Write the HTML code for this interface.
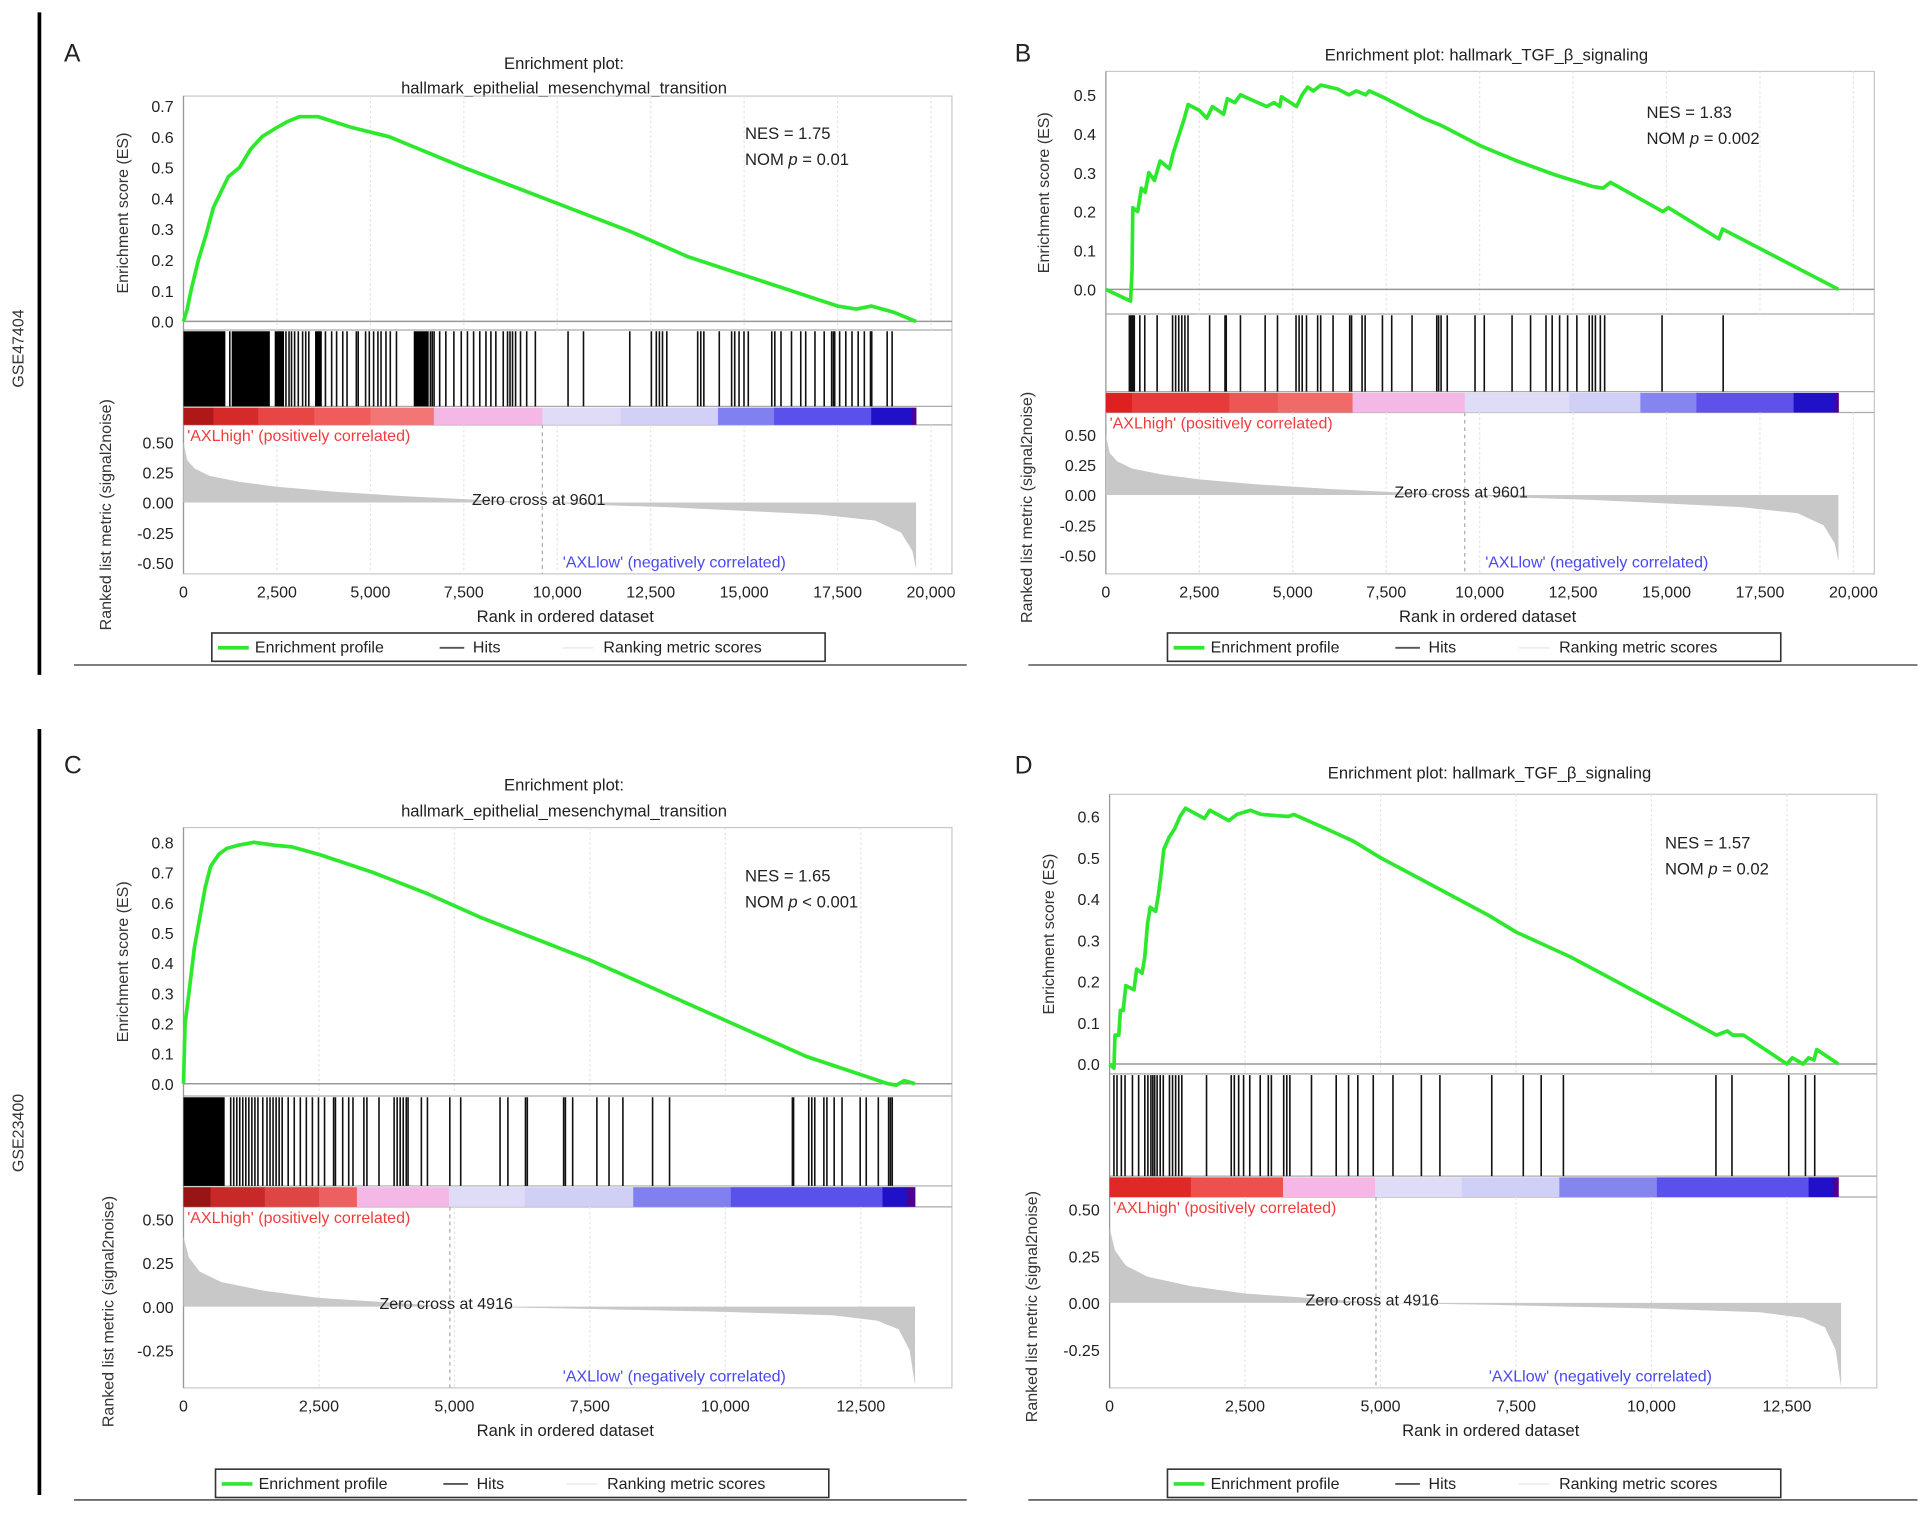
<!DOCTYPE html>
<html><head><meta charset="utf-8">
<style>
html,body{margin:0;padding:0;background:#fff;}
svg{display:block;font-family:"Liberation Sans",Arial,sans-serif;}
</style></head>
<body>
<svg id="fig" width="1931" height="1514" viewBox="0 0 1568 1229.4" preserveAspectRatio="none" xmlns="http://www.w3.org/2000/svg">
<rect x="0" y="0" width="1568" height="1230" fill="#fff"/>
<line x1="32" y1="10" x2="32" y2="548" stroke="#000" stroke-width="3"/>
<line x1="32" y1="592" x2="32" y2="1214" stroke="#000" stroke-width="3"/>
<text x="0" y="0" transform="translate(19,283) rotate(-90)" text-anchor="middle" font-size="13" fill="#333">GSE47404</text>
<text x="0" y="0" transform="translate(19,920) rotate(-90)" text-anchor="middle" font-size="13" fill="#333">GSE23400</text>
<g id="panels"></g>
</svg>
<script>
// ---------- DATA ----------
const esA_rank=[0,100,200,400,600,800,1000,1200,1500,1800,2100,2500,2800,3100,3600,4500,5500,6500,7500,9000,10500,12000,13500,15000,16000,17000,17500,18000,18400,19000,19600];
const esA_val=[0,0.04,0.1,0.2,0.28,0.37,0.42,0.47,0.5,0.56,0.6,0.63,0.65,0.665,0.665,0.63,0.6,0.55,0.5,0.43,0.36,0.29,0.21,0.15,0.11,0.07,0.05,0.04,0.05,0.03,0.0];
const hitsA=[1239,2741,2824,2890,2973,3072,3187,3270,3353,3798,3964,4096,4261,4376,4624,4674,4872,4971,5087,5202,5285,5417,5533,5698,6606,6656,6705,6854,7019,7234,7432,7597,7762,7927,8092,8224,8357,8555,8670,8736,8803,8885,9017,9182,9414,10289,10702,11940,12518,12650,12733,12816,12931,13757,13840,13922,14335,14665,14748,14864,14996,15111,15739,15821,15986,16267,16515,16647,16895,17142,17341,17390,17423,17555,17720,17886,18051,18216,18381,18414,18827,18959];
const hitBlocksA=[[0,1120],[1290,2310],[2440,2690],[3520,3700],[6160,6560]];
const cbarA_start=[0,800,2000,3500,5000,6700,9600,11700,14300,15800,18400,19500];
const cbarA_color=['#b01818','#d62a2a','#e84545','#f05c5c','#f47575','#f5b8e6','#dedcf6','#d2d0f7','#8080f0','#5a50ec','#2010c8','#500090'];
const metricA_rank=[0,100,300,700,1500,2500,4000,6000,8000,9601,11000,13000,15000,17000,18500,19200,19500,19600];
const metricA_val=[0.5,0.35,0.28,0.22,0.17,0.13,0.09,0.05,0.02,0,-0.02,-0.04,-0.07,-0.1,-0.15,-0.25,-0.4,-0.55];

const esB_rank=[0,660,700,720,850,950,1050,1150,1300,1450,1700,1800,1900,2000,2100,2200,2500,2700,2850,3150,3250,3450,3600,4300,4500,4650,4700,5100,5250,5400,5550,5750,6200,6500,6700,6950,7050,7500,8500,9000,10000,11000,12000,13000,13300,13500,14900,15050,16400,16500,19600];
const esB_val=[0,-0.03,0.05,0.21,0.2,0.26,0.25,0.30,0.28,0.33,0.31,0.35,0.38,0.41,0.44,0.475,0.46,0.44,0.47,0.45,0.49,0.48,0.50,0.47,0.48,0.47,0.495,0.47,0.50,0.52,0.51,0.525,0.515,0.50,0.51,0.50,0.51,0.49,0.44,0.42,0.37,0.33,0.295,0.265,0.26,0.275,0.2,0.21,0.13,0.155,0.0];
const hitsB=[628,660,694,727,760,908,1040,1371,1784,1866,1949,2031,2114,2197,2775,3187,3220,3600,4261,4591,5087,5169,5252,5367,5665,5747,6078,6523,6573,6854,6936,7399,7647,8191,8852,8902,8968,9133,9876,10124,10867,11362,11775,11940,12139,12353,12601,12931,13014,13097,13229,13344,14880,16515];
const hitBlocksB=[];
const cbarB_start=[0,700,3300,4600,6600,9600,12400,14300,15800,18400,19500];
const cbarB_color=['#e02020','#e83a3a','#ee5555','#f06a6a','#f5b8e6','#dedcf6','#d0d0f7','#8585f0','#6050ec','#2010c8','#500090'];
const metricB_rank=metricA_rank;
const metricB_val=metricA_val;

const esC_rank=[0,30,100,200,300,400,500,650,800,1000,1300,1700,2000,2500,3500,4500,5500,6500,7500,8500,9500,10500,11500,12500,13000,13150,13300,13500];
const esC_val=[0,0.2,0.3,0.45,0.55,0.65,0.72,0.76,0.78,0.79,0.80,0.79,0.785,0.76,0.70,0.63,0.55,0.48,0.41,0.33,0.25,0.17,0.09,0.03,0.0,-0.005,0.01,0.0];
const hitsC=[871,927,983,1038,1094,1150,1206,1262,1318,1374,1463,1541,1597,1653,1709,1765,1821,1932,2044,2156,2267,2379,2491,2603,2770,2804,2938,3049,3128,3329,3385,3608,3887,3943,3999,4055,4111,4144,4390,4502,4915,5116,5842,5987,6311,6345,7015,7048,7182,7629,7853,8109,8657,8970,11237,11259,11539,11595,11650,11818,11874,12008,12153,12488,12600,12823,13013,13047,13080];
const hitBlocksC=[[0,760]];
const cbarC_start=[0,500,1500,2500,3200,4900,6300,8300,10100,12900,13350];
const cbarC_color=['#9a1414','#c82828','#e04545','#ee6060','#f5b8e6','#dedcf6','#d0d0f7','#8080f0','#5a50ec','#2010c8','#500090'];
const metricC_rank=[0,100,300,700,1500,2500,4000,4916,7000,10000,12000,12800,13200,13400,13500];
const metricC_val=[0.4,0.28,0.2,0.14,0.09,0.05,0.02,0,-0.01,-0.03,-0.05,-0.08,-0.13,-0.25,-0.45];

const esD_rank=[0,80,100,170,200,250,300,450,500,600,650,700,750,850,900,950,1000,1100,1200,1300,1400,1750,1850,2200,2350,2600,2800,3300,3400,4000,4500,5000,6000,7000,7500,8000,8500,9500,10500,11200,11400,11500,11700,12500,12600,12800,12900,13000,13050,13450];
const esD_val=[0,-0.01,0.07,0.07,0.13,0.13,0.19,0.18,0.23,0.22,0.26,0.34,0.38,0.37,0.41,0.46,0.52,0.55,0.57,0.6,0.62,0.595,0.615,0.59,0.605,0.615,0.605,0.6,0.605,0.57,0.54,0.50,0.43,0.36,0.32,0.29,0.26,0.19,0.12,0.07,0.08,0.07,0.07,0.0,0.015,0.0,0.015,0.01,0.035,0.0];
const hitsD=[80,137,217,285,422,536,650,707,763,798,832,877,934,991,1105,1162,1219,1276,1333,1789,2245,2302,2382,2473,2587,2780,2929,2986,3213,3270,3327,3726,4182,4410,4581,4866,5230,5754,6096,7053,7635,7965,8375,11190,11486,12534,12842,13013];
const hitBlocksD=[];
const cbarD_start=[0,1500,3200,4900,6500,8300,10100,12900,13350];
const cbarD_color=['#e02828','#ee5050','#f5b8e6','#dedcf6','#d0d0f7','#8585f0','#5a50ec','#2010c8','#500090'];
const metricD_rank=metricC_rank;
const metricD_val=metricC_val;

const xTicksA=[0,2500,5000,7500,10000,12500,15000,17500,20000];
const xTicksC=[0,2500,5000,7500,10000,12500];
const esTicksA=[0,0.1,0.2,0.3,0.4,0.5,0.6,0.7];
const esTicksB=[0,0.1,0.2,0.3,0.4,0.5];
const esTicksC=[0,0.1,0.2,0.3,0.4,0.5,0.6,0.7,0.8];
const esTicksD=[0,0.1,0.2,0.3,0.4,0.5,0.6];
const mTicksAB=[0.5,0.25,0,-0.25,-0.5];
const mTicksCD=[0.5,0.25,0,-0.25];

// ---------- LAYOUT ----------
const panels=[
 {id:'a',letter:'A',lx:52,ly:50,title:['Enrichment plot:','hallmark_epithelial_mesenchymal_transition'],ty:[56,76],
  L:149,R:773,esTop:78,hitTop:268,cbTop:330,cbBot:345,bot:466,y0:261,pes:250,m0:408,pm:98,xppr:607/20000,end:19600,zc:9601,
  esR:esA_rank,esV:esA_val,hits:hitsA,blocks:hitBlocksA,cbS:cbarA_start,cbC:cbarA_color,mR:metricA_rank,mV:metricA_val,
  xt:xTicksA,et:esTicksA,mt:mTicksAB,nes:['NES = 1.75','0.01','='],nx:605,ny:113,legX:172,legY:514,lineX1:60,lineX2:785,lineY:540,esLabX:104,mLabX:90},
 {id:'b',letter:'B',lx:824,ly:50,title:['Enrichment plot: hallmark_TGF_β_signaling'],ty:[49],
  L:898,R:1522,esTop:58,hitTop:255,cbTop:318,cbBot:335,bot:466,y0:235,pes:316,m0:402,pm:98,xppr:607/20000,end:19600,zc:9601,
  esR:esB_rank,esV:esB_val,hits:hitsB,blocks:hitBlocksB,cbS:cbarB_start,cbC:cbarB_color,mR:metricB_rank,mV:metricB_val,
  xt:xTicksA,et:esTicksB,mt:mTicksAB,nes:['NES = 1.83','0.002','='],nx:1337,ny:96,legX:948,legY:514,lineX1:835,lineX2:1557,lineY:540,esLabX:852,mLabX:838},
 {id:'c',letter:'C',lx:52,ly:628,title:['Enrichment plot:','hallmark_epithelial_mesenchymal_transition'],ty:[642,663],
  L:149,R:773,esTop:672,hitTop:890,cbTop:963,cbBot:980,bot:1127,y0:880,pes:245,m0:1061,pm:142,xppr:110/2500,end:13500,zc:4916,
  esR:esC_rank,esV:esC_val,hits:hitsC,blocks:hitBlocksC,cbS:cbarC_start,cbC:cbarC_color,mR:metricC_rank,mV:metricC_val,
  xt:xTicksC,et:esTicksC,mt:mTicksCD,nes:['NES = 1.65','0.001','<'],nx:605,ny:716,legX:175,legY:1193,lineX1:60,lineX2:785,lineY:1218,esLabX:104,mLabX:92},
 {id:'d',letter:'D',lx:824,ly:628,title:['Enrichment plot: hallmark_TGF_β_signaling'],ty:[632],
  L:901,R:1524,esTop:645,hitTop:872,cbTop:955,cbBot:972,bot:1127,y0:864,pes:335,m0:1058,pm:152,xppr:110/2500,end:13450,zc:4916,
  esR:esD_rank,esV:esD_val,hits:hitsD,blocks:hitBlocksD,cbS:cbarD_start,cbC:cbarD_color,mR:metricD_rank,mV:metricD_val,
  xt:xTicksC,et:esTicksD,mt:mTicksCD,nes:['NES = 1.57','0.02','='],nx:1352,ny:689,legX:948,legY:1193,lineX1:835,lineX2:1557,lineY:1218,esLabX:856,mLabX:842}
];

const NS='http://www.w3.org/2000/svg';
const root=document.getElementById('panels');
function mk(tag,attrs,parent,txt){const e=document.createElementNS(NS,tag);for(const k in attrs)e.setAttribute(k,attrs[k]);if(txt!==undefined)e.textContent=txt;(parent||root).appendChild(e);return e;}
function fmt(v){return v.toLocaleString('en-US');}

panels.forEach(p=>{
  const g=mk('g',{});
  
  
  const xs=r=>p.L+r*p.xppr;
  const ys=v=>p.y0-v*p.pes;
  const ym=v=>p.m0-v*p.pm;
  const lt=mk('text',{x:p.lx,y:p.ly,'font-size':20,fill:'#222'},g,p.letter);
  
  
  p.title.forEach((t,i)=>{const tt=mk('text',{x:(p.L+p.R)/2-3,y:p.ty[i],'font-size':13.5,'text-anchor':'middle',fill:'#222'},g,t);
    
    });
  mk('rect',{x:p.L,y:p.esTop,width:p.R-p.L,height:p.bot-p.esTop,fill:'none',stroke:'#c8c8c8','stroke-width':1},g);
  mk('line',{x1:p.L,y1:p.hitTop,x2:p.R,y2:p.hitTop,stroke:'#aaa','stroke-width':1},g);
  mk('line',{x1:p.L,y1:p.cbTop,x2:p.R,y2:p.cbTop,stroke:'#aaa','stroke-width':1},g);
  mk('line',{x1:p.L,y1:p.cbBot,x2:p.R,y2:p.cbBot,stroke:'#aaa','stroke-width':1},g);
  p.xt.forEach(t=>{const x=xs(t);
    mk('line',{x1:x,y1:p.esTop,x2:x,y2:p.hitTop,stroke:'#e4e4e4','stroke-dasharray':'2,2'},g);
    mk('line',{x1:x,y1:p.cbBot,x2:x,y2:p.bot,stroke:'#e4e4e4','stroke-dasharray':'2,2'},g);
    const tl=mk('text',{x:x,y:p.bot+19,'font-size':13,'text-anchor':'middle',fill:'#222'},g,fmt(t));
    
    });
  mk('line',{x1:p.L,y1:p.bot,x2:p.L,y2:p.esTop,stroke:'#999'},g);
  p.et.forEach(t=>{const tl=mk('text',{x:p.L-8,y:ys(t)+5,'font-size':13,'text-anchor':'end',fill:'#222'},g,t.toFixed(1));
    
    });
  mk('line',{x1:p.L,y1:p.y0,x2:p.R,y2:p.y0,stroke:'#999','stroke-width':1.2},g);
  p.mt.forEach(t=>{const tl=mk('text',{x:p.L-8,y:ym(t)+5,'font-size':13,'text-anchor':'end',fill:'#222'},g,t.toFixed(2));
    
    });
  const a1=mk('text',{x:0,y:0,transform:`translate(${p.esLabX},${(p.esTop+p.hitTop)/2}) rotate(-90)`,'font-size':13,'text-anchor':'middle',fill:'#333'},g,'Enrichment score (ES)');
  
  
  const a2=mk('text',{x:0,y:0,transform:`translate(${p.mLabX},${(p.cbTop+p.bot+40)/2}) rotate(-90)`,'font-size':13,'text-anchor':'middle',fill:'#333'},g,'Ranked list metric (signal2noise)');
  
  
  const a3=mk('text',{x:(p.L+p.R)/2-2,y:p.bot+39,'font-size':13.5,'text-anchor':'middle',fill:'#222'},g,'Rank in ordered dataset');
  
  
  p.blocks.forEach(b=>{const r=mk('rect',{x:xs(b[0]),y:p.hitTop+1,width:xs(b[1])-xs(b[0]),height:p.cbTop-p.hitTop-1,fill:'#000'},g);
    
    });
  p.hits.forEach(h=>{const l=mk('line',{x1:xs(h),y1:p.hitTop+1,x2:xs(h),y2:p.cbTop,stroke:'#111','stroke-width':1.3},g);
    
    });
  p.cbS.forEach((s,i)=>{const e=i+1<p.cbS.length?p.cbS[i+1]:p.end;
    const r=mk('rect',{x:xs(s),y:p.cbTop+1,width:xs(e)-xs(s)+0.3,height:p.cbBot-p.cbTop-1,fill:p.cbC[i]},g);
    
    });
  let d=`M${xs(p.mR[0])},${ym(0)}`;
  p.mR.forEach((r,i)=>{d+=` L${xs(r)},${ym(p.mV[i])}`;});
  d+=` L${xs(p.mR[p.mR.length-1])},${ym(0)} Z`;
  const ar=mk('path',{d:d,fill:'#c8c8c8',stroke:'none'},g);
  
  
  mk('line',{x1:xs(p.zc),y1:p.cbBot,x2:xs(p.zc),y2:p.bot,stroke:'#aaa','stroke-dasharray':'3,3'},g);
  const zt=mk('text',{x:xs(p.zc)-3,y:ym(0)+2,'font-size':13,'text-anchor':'middle',fill:'#222'},g,'Zero cross at '+p.zc);
  
  
  const hl=mk('text',{x:p.L+3,y:p.cbBot+13,'font-size':13,fill:'#f03c3c'},g,"'AXLhigh' (positively correlated)");
  
  
  const ll=mk('text',{x:p.L+308,y:p.bot-5,'font-size':13,fill:'#4848f0'},g,"'AXLlow' (negatively correlated)");
  
  
  const pts=p.esR.map((r,i)=>xs(r)+','+ys(p.esV[i])).join(' ');
  const pl=mk('polyline',{points:pts,fill:'none',stroke:'#2ee82e','stroke-width':3,'stroke-linejoin':'round'},g);
  
  
  const n1=mk('text',{x:p.nx,y:p.ny,'font-size':13.5,fill:'#222'},g,p.nes[0]);
  
  
  const n2=mk('text',{x:p.nx,y:p.ny+21,'font-size':13.5,fill:'#222'},g);
  
  
  mk('tspan',{},n2,'NOM ');mk('tspan',{'font-style':'italic'},n2,'p');mk('tspan',{},n2,' '+p.nes[2]+' '+p.nes[1]);
  const lg=mk('g',{},g);
  
  
  mk('rect',{x:p.legX,y:p.legY,width:498,height:23,fill:'#fff',stroke:'#333','stroke-width':1.3},lg);
  mk('line',{x1:p.legX+5,y1:p.legY+12,x2:p.legX+30,y2:p.legY+12,stroke:'#2ee82e','stroke-width':3},lg);
  mk('text',{x:p.legX+35,y:p.legY+16,'font-size':13,fill:'#222'},lg,'Enrichment profile');
  mk('line',{x1:p.legX+185,y1:p.legY+12,x2:p.legX+205,y2:p.legY+12,stroke:'#555','stroke-width':1.5},lg);
  mk('text',{x:p.legX+212,y:p.legY+16,'font-size':13,fill:'#222'},lg,'Hits');
  mk('line',{x1:p.legX+285,y1:p.legY+12,x2:p.legX+310,y2:p.legY+12,stroke:'#eee','stroke-width':1.5},lg);
  mk('text',{x:p.legX+318,y:p.legY+16,'font-size':13,fill:'#222'},lg,'Ranking metric scores');
  mk('line',{x1:p.lineX1,y1:p.lineY,x2:p.lineX2,y2:p.lineY,stroke:'#555','stroke-width':1.3},g);
});
</script>
</body></html>
